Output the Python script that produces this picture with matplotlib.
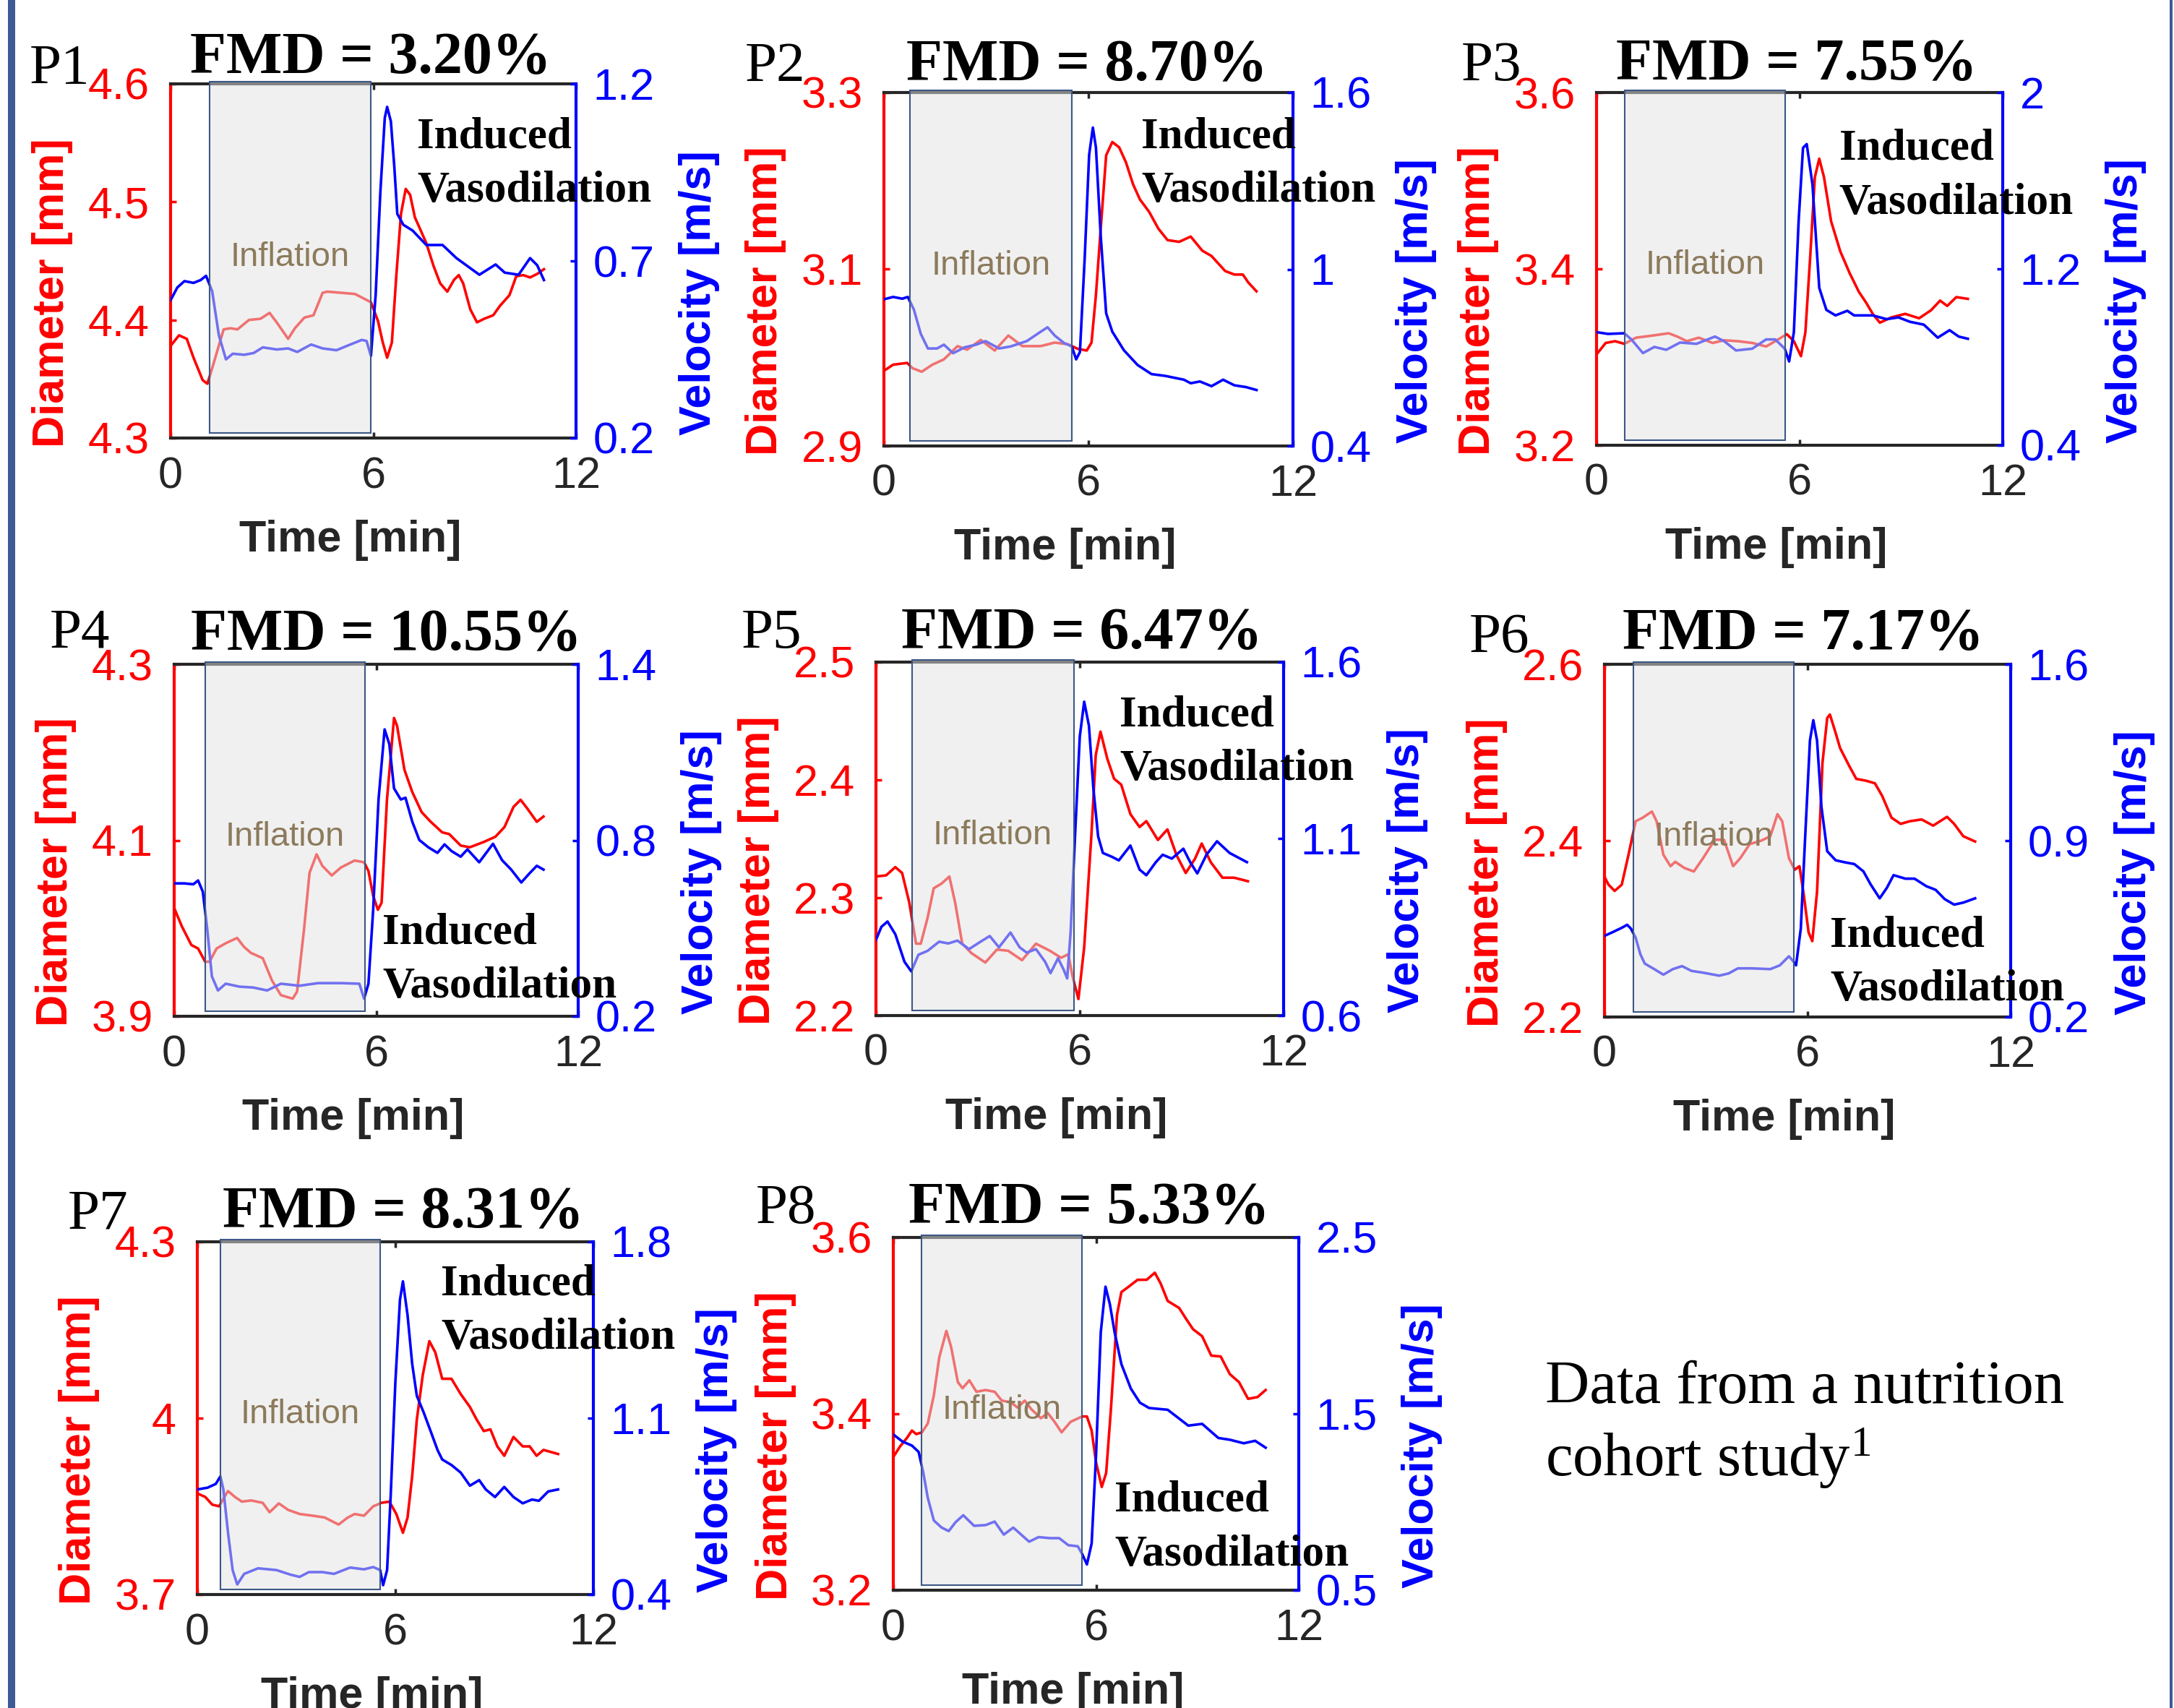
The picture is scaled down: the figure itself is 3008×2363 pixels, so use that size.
import matplotlib
matplotlib.use('Agg')
import matplotlib.pyplot as plt
from matplotlib.patches import Rectangle
from matplotlib.transforms import blended_transform_factory
from matplotlib.ticker import FixedLocator, FixedFormatter

plt.rcParams['font.family'] = ['Liberation Sans', 'DejaVu Sans']
plt.rcParams['mathtext.fontset'] = 'custom'
plt.rcParams['mathtext.rm'] = 'Liberation Serif'
plt.rcParams['mathtext.it'] = 'Liberation Serif:italic'
plt.rcParams['mathtext.bf'] = 'Liberation Serif:bold'

# ---------------- data ----------------
panel_names = ['P1', 'P2', 'P3', 'P4', 'P5', 'P6', 'P7', 'P8']
fmd_values = ['3.20', '8.70', '7.55', '10.55', '6.47', '7.17', '8.31', '5.33']

time_ticks = [0, 6, 12]
time_limits = (0, 12)

dia_limits = [(4.3, 4.6), (2.9, 3.3), (3.2, 3.6), (3.9, 4.3), (2.2, 2.5), (2.2, 2.6), (3.7, 4.3), (3.2, 3.6)]
dia_ticks = [[4.3, 4.4, 4.5, 4.6], [2.9, 3.1, 3.3], [3.2, 3.4, 3.6], [3.9, 4.1, 4.3],
             [2.2, 2.3, 2.4, 2.5], [2.2, 2.4, 2.6], [3.7, 4.0, 4.3], [3.2, 3.4, 3.6]]
vel_limits = [(0.2, 1.2), (0.4, 1.6), (0.4, 2.0), (0.2, 1.4), (0.6, 1.6), (0.2, 1.6), (0.4, 1.8), (0.5, 2.5)]
vel_ticks = [[0.2, 0.7, 1.2], [0.4, 1.0, 1.6], [0.4, 1.2, 2.0], [0.2, 0.8, 1.4],
             [0.6, 1.1, 1.6], [0.2, 0.9, 1.6], [0.4, 1.1, 1.8], [0.5, 1.5, 2.5]]

inflation_start = [1.16, 0.77, 0.84, 0.92, 1.06, 0.85, 0.70, 0.83]
inflation_end = [5.93, 5.51, 5.58, 5.66, 5.82, 5.59, 5.55, 5.59]

# P1
p1_dia_t = [0, 0.25, 0.48, 0.68, 0.95, 1.09, 1.23, 1.57, 1.77, 1.98, 2.32, 2.66, 2.93, 3.14, 3.48, 3.68, 3.96, 4.23, 4.50, 4.64, 5.05, 5.46, 5.73, 5.93, 6.14, 6.28, 6.41, 6.55, 6.68, 6.82, 6.96, 7.09, 7.23, 7.37, 7.57, 7.78, 7.98, 8.19, 8.39, 8.53, 8.66, 8.87, 9.07, 9.28, 9.55, 9.75, 10.03, 10.23, 10.44, 10.64, 10.85, 11.05]
p1_dia = [4.378, 4.387, 4.384, 4.368, 4.349, 4.346, 4.359, 4.392, 4.393, 4.392, 4.400, 4.401, 4.406, 4.398, 4.384, 4.393, 4.402, 4.404, 4.423, 4.424, 4.423, 4.422, 4.418, 4.415, 4.399, 4.381, 4.368, 4.381, 4.437, 4.490, 4.511, 4.506, 4.487, 4.478, 4.465, 4.446, 4.431, 4.424, 4.434, 4.438, 4.431, 4.409, 4.398, 4.401, 4.404, 4.412, 4.421, 4.437, 4.438, 4.436, 4.439, 4.443]
p1_vel_t = [0, 0.20, 0.41, 0.68, 0.89, 1.05, 1.23, 1.43, 1.64, 1.84, 2.18, 2.46, 2.73, 3.14, 3.48, 3.75, 4.16, 4.50, 4.91, 5.32, 5.66, 5.80, 5.93, 6.07, 6.21, 6.34, 6.41, 6.52, 6.62, 6.71, 6.89, 7.16, 7.57, 8.05, 8.46, 9.14, 9.62, 9.89, 10.30, 10.64, 10.85, 11.05]
p1_vel = [0.589, 0.625, 0.643, 0.638, 0.646, 0.658, 0.615, 0.490, 0.422, 0.438, 0.435, 0.440, 0.456, 0.450, 0.453, 0.443, 0.464, 0.453, 0.448, 0.464, 0.477, 0.474, 0.432, 0.604, 0.896, 1.104, 1.135, 1.094, 0.969, 0.833, 0.802, 0.786, 0.745, 0.745, 0.708, 0.661, 0.690, 0.667, 0.661, 0.708, 0.688, 0.646]

# P2
p2_dia_t = [0, 0.27, 0.68, 0.84, 1.11, 1.42, 1.76, 2.16, 2.44, 2.84, 3.25, 3.65, 4.06, 4.60, 5.01, 5.41, 5.68, 5.95, 6.09, 6.22, 6.36, 6.52, 6.70, 6.90, 7.10, 7.31, 7.51, 7.78, 8.05, 8.32, 8.66, 9.00, 9.34, 9.61, 10.01, 10.28, 10.53, 10.69, 10.93]
p2_dia = [2.985, 2.992, 2.994, 2.988, 2.984, 2.992, 2.998, 3.013, 3.009, 3.020, 3.008, 3.025, 3.013, 3.013, 3.017, 3.015, 3.010, 3.008, 3.017, 3.071, 3.146, 3.229, 3.244, 3.238, 3.221, 3.196, 3.179, 3.165, 3.146, 3.133, 3.131, 3.137, 3.121, 3.115, 3.098, 3.094, 3.094, 3.085, 3.075]
p2_vel_t = [0, 0.27, 0.54, 0.70, 0.88, 1.08, 1.29, 1.56, 1.76, 2.03, 2.37, 2.71, 2.98, 3.38, 3.72, 4.19, 4.60, 4.80, 5.01, 5.28, 5.51, 5.64, 5.75, 5.89, 6.02, 6.13, 6.22, 6.36, 6.52, 6.70, 7.04, 7.44, 7.85, 8.25, 8.80, 9.00, 9.27, 9.61, 9.95, 10.28, 10.62, 10.93]
p2_vel = [0.898, 0.906, 0.900, 0.906, 0.863, 0.781, 0.731, 0.731, 0.744, 0.715, 0.735, 0.744, 0.756, 0.731, 0.738, 0.756, 0.788, 0.803, 0.775, 0.750, 0.738, 0.694, 0.719, 1.038, 1.388, 1.481, 1.413, 1.113, 0.850, 0.788, 0.725, 0.675, 0.644, 0.638, 0.625, 0.613, 0.619, 0.603, 0.625, 0.606, 0.600, 0.590]

# P3
p3_dia_t = [0, 0.27, 0.55, 0.82, 1.17, 1.58, 2.13, 2.40, 2.67, 3.02, 3.43, 3.77, 4.18, 4.60, 5.01, 5.28, 5.62, 5.83, 6.04, 6.17, 6.31, 6.45, 6.58, 6.72, 6.93, 7.20, 7.48, 7.75, 7.96, 8.16, 8.37, 8.71, 9.12, 9.53, 9.88, 10.15, 10.36, 10.63, 10.97]
p3_dia = [3.303, 3.316, 3.318, 3.315, 3.322, 3.324, 3.327, 3.323, 3.318, 3.322, 3.316, 3.319, 3.318, 3.316, 3.312, 3.318, 3.326, 3.318, 3.301, 3.328, 3.412, 3.504, 3.525, 3.504, 3.454, 3.420, 3.395, 3.374, 3.362, 3.349, 3.339, 3.345, 3.349, 3.344, 3.353, 3.364, 3.358, 3.368, 3.366]
p3_vel_t = [0, 0.34, 0.82, 1.03, 1.37, 1.71, 2.06, 2.47, 2.95, 3.50, 3.77, 4.12, 4.60, 5.01, 5.28, 5.56, 5.69, 5.83, 5.97, 6.10, 6.21, 6.38, 6.58, 6.79, 7.06, 7.41, 7.61, 8.16, 8.57, 8.92, 9.26, 9.67, 10.08, 10.43, 10.70, 10.97]
p3_vel = [0.913, 0.905, 0.908, 0.880, 0.818, 0.846, 0.833, 0.866, 0.860, 0.893, 0.872, 0.830, 0.838, 0.880, 0.880, 0.838, 0.780, 0.913, 1.415, 1.749, 1.766, 1.582, 1.114, 1.014, 0.989, 1.010, 0.989, 0.989, 0.972, 0.980, 0.960, 0.947, 0.888, 0.922, 0.893, 0.883]

# P4
p4_dia_t = [0, 0.23, 0.51, 0.71, 0.92, 1.05, 1.26, 1.53, 1.87, 2.07, 2.28, 2.63, 2.90, 3.17, 3.52, 3.65, 3.86, 4.02, 4.23, 4.40, 4.68, 4.95, 5.36, 5.64, 5.77, 5.91, 6.05, 6.16, 6.32, 6.53, 6.62, 6.84, 7.07, 7.35, 7.62, 7.96, 8.17, 8.51, 8.78, 9.19, 9.54, 9.81, 10.08, 10.29, 10.49, 10.77, 10.97]
p4_dia = [4.023, 4.002, 3.981, 3.977, 3.962, 3.962, 3.977, 3.983, 3.989, 3.979, 3.972, 3.966, 3.941, 3.924, 3.920, 3.928, 4.000, 4.063, 4.084, 4.071, 4.060, 4.069, 4.077, 4.075, 4.065, 4.037, 4.021, 4.029, 4.146, 4.239, 4.230, 4.180, 4.155, 4.132, 4.121, 4.109, 4.107, 4.094, 4.092, 4.098, 4.104, 4.115, 4.138, 4.146, 4.136, 4.121, 4.127]
p4_vel_t = [0, 0.30, 0.57, 0.71, 0.85, 0.98, 1.12, 1.30, 1.53, 1.94, 2.35, 2.76, 3.17, 3.72, 4.27, 4.95, 5.50, 5.64, 5.77, 5.91, 6.07, 6.25, 6.39, 6.53, 6.73, 6.87, 7.07, 7.28, 7.55, 7.82, 8.03, 8.24, 8.51, 8.71, 9.06, 9.47, 9.74, 10.01, 10.31, 10.56, 10.77, 10.97]
p4_vel = [0.653, 0.653, 0.650, 0.663, 0.625, 0.499, 0.336, 0.288, 0.311, 0.301, 0.298, 0.288, 0.311, 0.304, 0.313, 0.313, 0.311, 0.260, 0.311, 0.562, 0.939, 1.178, 1.128, 0.977, 0.939, 0.945, 0.864, 0.801, 0.776, 0.757, 0.786, 0.763, 0.744, 0.769, 0.725, 0.788, 0.732, 0.700, 0.656, 0.688, 0.713, 0.700]

# P5
p5_dia_t = [0, 0.30, 0.57, 0.77, 0.98, 1.18, 1.32, 1.52, 1.70, 1.93, 2.16, 2.33, 2.54, 2.81, 3.22, 3.56, 3.89, 4.30, 4.71, 5.12, 5.45, 5.66, 5.79, 5.96, 6.13, 6.34, 6.47, 6.61, 6.81, 7.01, 7.22, 7.49, 7.76, 7.96, 8.30, 8.58, 8.85, 9.12, 9.39, 9.59, 9.86, 10.20, 10.54, 10.95]
p5_dia = [2.318, 2.319, 2.326, 2.321, 2.296, 2.261, 2.261, 2.283, 2.308, 2.312, 2.318, 2.296, 2.261, 2.253, 2.245, 2.256, 2.255, 2.247, 2.261, 2.255, 2.249, 2.252, 2.233, 2.214, 2.258, 2.352, 2.421, 2.441, 2.418, 2.401, 2.396, 2.371, 2.360, 2.365, 2.349, 2.358, 2.336, 2.321, 2.333, 2.346, 2.330, 2.317, 2.317, 2.314]
p5_vel_t = [0, 0.16, 0.34, 0.57, 0.84, 1.04, 1.25, 1.52, 1.86, 2.13, 2.40, 2.74, 3.08, 3.35, 3.62, 3.96, 4.23, 4.44, 4.71, 4.98, 5.14, 5.36, 5.52, 5.63, 5.73, 5.86, 6.00, 6.13, 6.27, 6.40, 6.54, 6.68, 6.95, 7.15, 7.49, 7.76, 7.96, 8.24, 8.44, 8.71, 9.05, 9.25, 9.46, 9.73, 10.04, 10.41, 10.92]
p5_vel = [0.814, 0.851, 0.866, 0.830, 0.752, 0.725, 0.772, 0.783, 0.809, 0.804, 0.812, 0.788, 0.809, 0.825, 0.793, 0.835, 0.793, 0.778, 0.788, 0.752, 0.720, 0.762, 0.731, 0.705, 0.835, 1.107, 1.389, 1.488, 1.420, 1.243, 1.107, 1.060, 1.049, 1.039, 1.081, 1.013, 0.997, 1.034, 1.055, 1.044, 1.072, 1.034, 1.002, 1.055, 1.093, 1.060, 1.034]

# P6
p6_dia_t = [0, 0.12, 0.30, 0.51, 0.71, 0.92, 1.13, 1.40, 1.54, 1.74, 1.95, 2.09, 2.36, 2.64, 2.91, 3.26, 3.53, 3.80, 4.01, 4.29, 4.63, 4.90, 5.11, 5.25, 5.45, 5.62, 5.76, 5.89, 6.03, 6.14, 6.28, 6.44, 6.58, 6.66, 6.83, 6.96, 7.24, 7.44, 7.72, 7.99, 8.20, 8.48, 8.75, 9.02, 9.37, 9.71, 10.12, 10.33, 10.60, 10.95]
p6_dia = [2.359, 2.350, 2.343, 2.350, 2.384, 2.422, 2.426, 2.433, 2.422, 2.384, 2.371, 2.376, 2.369, 2.365, 2.380, 2.401, 2.401, 2.371, 2.380, 2.396, 2.400, 2.405, 2.430, 2.422, 2.380, 2.367, 2.371, 2.338, 2.296, 2.286, 2.342, 2.488, 2.539, 2.543, 2.522, 2.505, 2.484, 2.470, 2.468, 2.465, 2.451, 2.426, 2.419, 2.422, 2.424, 2.417, 2.427, 2.419, 2.405, 2.399]
p6_vel_t = [0, 0.23, 0.51, 0.67, 0.78, 0.92, 1.06, 1.19, 1.47, 1.74, 2.02, 2.29, 2.57, 2.91, 3.39, 3.67, 3.94, 4.35, 4.90, 5.18, 5.45, 5.59, 5.66, 5.80, 5.93, 6.07, 6.17, 6.28, 6.41, 6.58, 6.83, 7.10, 7.38, 7.65, 7.86, 8.13, 8.34, 8.54, 8.89, 9.16, 9.51, 9.78, 10.05, 10.33, 10.60, 10.95]
p6_vel = [0.522, 0.536, 0.554, 0.566, 0.551, 0.515, 0.449, 0.412, 0.390, 0.368, 0.390, 0.402, 0.383, 0.376, 0.364, 0.373, 0.393, 0.393, 0.390, 0.405, 0.441, 0.419, 0.405, 0.551, 0.917, 1.297, 1.378, 1.297, 1.034, 0.858, 0.822, 0.814, 0.807, 0.778, 0.727, 0.671, 0.712, 0.763, 0.749, 0.749, 0.719, 0.705, 0.668, 0.646, 0.654, 0.671]

# P7
p7_dia_t = [0, 0.24, 0.45, 0.66, 0.79, 0.93, 1.14, 1.35, 1.63, 1.98, 2.19, 2.47, 2.75, 3.10, 3.51, 3.86, 4.28, 4.56, 4.77, 5.05, 5.33, 5.58, 5.82, 6.03, 6.23, 6.37, 6.51, 6.65, 6.83, 7.03, 7.21, 7.42, 7.70, 7.98, 8.26, 8.47, 8.68, 8.88, 9.09, 9.30, 9.58, 9.86, 10.07, 10.28, 10.49, 10.93]
p7_dia = [3.872, 3.866, 3.853, 3.850, 3.863, 3.876, 3.866, 3.858, 3.860, 3.856, 3.840, 3.855, 3.844, 3.837, 3.834, 3.831, 3.819, 3.831, 3.837, 3.834, 3.850, 3.856, 3.858, 3.837, 3.805, 3.831, 3.901, 3.997, 4.073, 4.131, 4.112, 4.067, 4.067, 4.041, 4.019, 3.997, 3.978, 3.981, 3.952, 3.936, 3.968, 3.952, 3.952, 3.936, 3.946, 3.939]
p7_vel_t = [0, 0.31, 0.56, 0.70, 0.79, 0.93, 1.07, 1.21, 1.42, 1.84, 2.40, 2.82, 3.10, 3.38, 3.79, 4.14, 4.63, 5.05, 5.33, 5.54, 5.63, 5.75, 5.86, 6.00, 6.14, 6.23, 6.37, 6.51, 6.65, 6.86, 7.07, 7.28, 7.42, 7.70, 7.98, 8.26, 8.54, 8.74, 9.02, 9.30, 9.58, 9.86, 10.14, 10.35, 10.63, 10.93]
p7_vel = [0.817, 0.824, 0.839, 0.869, 0.817, 0.646, 0.497, 0.440, 0.482, 0.504, 0.497, 0.479, 0.470, 0.489, 0.489, 0.482, 0.507, 0.500, 0.509, 0.497, 0.437, 0.497, 0.795, 1.241, 1.569, 1.643, 1.509, 1.316, 1.189, 1.122, 1.048, 0.973, 0.936, 0.914, 0.884, 0.832, 0.854, 0.817, 0.787, 0.827, 0.787, 0.762, 0.777, 0.772, 0.809, 0.817]

# P8
p8_dia_t = [0, 0.20, 0.41, 0.55, 0.68, 0.85, 1.02, 1.20, 1.36, 1.57, 1.71, 1.91, 2.05, 2.25, 2.46, 2.73, 3.00, 3.21, 3.48, 3.68, 3.89, 4.09, 4.37, 4.57, 4.77, 4.98, 5.25, 5.59, 5.73, 5.87, 6.00, 6.17, 6.30, 6.44, 6.62, 6.75, 6.96, 7.23, 7.50, 7.74, 7.91, 8.12, 8.46, 8.66, 8.87, 9.14, 9.41, 9.69, 9.96, 10.23, 10.50, 10.78, 11.02]
p8_dia = [3.351, 3.363, 3.373, 3.381, 3.377, 3.379, 3.389, 3.421, 3.464, 3.494, 3.476, 3.436, 3.429, 3.438, 3.425, 3.427, 3.425, 3.415, 3.413, 3.407, 3.415, 3.405, 3.395, 3.401, 3.391, 3.379, 3.391, 3.397, 3.397, 3.381, 3.345, 3.317, 3.333, 3.405, 3.512, 3.538, 3.544, 3.552, 3.552, 3.560, 3.548, 3.528, 3.520, 3.508, 3.496, 3.488, 3.466, 3.465, 3.445, 3.436, 3.417, 3.419, 3.427]
p8_vel_t = [0, 0.27, 0.55, 0.75, 0.89, 1.02, 1.20, 1.43, 1.64, 1.84, 2.07, 2.39, 2.73, 3.00, 3.27, 3.55, 3.82, 4.02, 4.30, 4.64, 4.91, 5.18, 5.46, 5.59, 5.73, 5.87, 6.00, 6.14, 6.28, 6.41, 6.55, 6.75, 7.03, 7.30, 7.57, 8.12, 8.46, 8.73, 9.14, 9.62, 9.96, 10.37, 10.71, 11.02]
p8_vel = [1.383, 1.343, 1.320, 1.284, 1.164, 1.024, 0.895, 0.855, 0.835, 0.885, 0.925, 0.865, 0.869, 0.889, 0.815, 0.855, 0.809, 0.775, 0.801, 0.795, 0.795, 0.755, 0.749, 0.705, 0.646, 0.765, 1.264, 1.962, 2.221, 2.121, 1.962, 1.782, 1.643, 1.563, 1.533, 1.523, 1.473, 1.433, 1.443, 1.363, 1.353, 1.333, 1.347, 1.308]

dia_t = [p1_dia_t, p2_dia_t, p3_dia_t, p4_dia_t, p5_dia_t, p6_dia_t, p7_dia_t, p8_dia_t]
dia_v = [p1_dia, p2_dia, p3_dia, p4_dia, p5_dia, p6_dia, p7_dia, p8_dia]
vel_t = [p1_vel_t, p2_vel_t, p3_vel_t, p4_vel_t, p5_vel_t, p6_vel_t, p7_vel_t, p8_vel_t]
vel_v = [p1_vel, p2_vel, p3_vel, p4_vel, p5_vel, p6_vel, p7_vel, p8_vel]

# ---------------- layout (pixels in 3008x2363 canvas) ----------------
W, H = 3008, 2363
axes_px = [(236, 797, 116, 606), (1223, 1789, 128, 617), (2209, 2771, 128, 616),
           (241, 800, 919, 1406), (1212, 1776, 916, 1405), (2220, 2782, 919, 1407),
           (273, 821, 1718, 2206), (1236, 1797, 1712, 2200)]
plabel_px = [(41, 115), (1031, 112), (2022, 111), (69, 896), (1026, 896), (2033, 902), (94, 1700), (1046, 1692)]
fmd_px = [(513, 101), (1504, 111), (2486, 110), (534, 899), (1497, 897), (2495, 898), (558, 1698), (1507, 1692)]
induced_pos = [(7.3, 0.82), (7.55, 0.844), (7.17, 0.81), (6.18, 0.207), (7.18, 0.82), (6.66, 0.20), (7.39, 0.85), (6.55, 0.224)]

RED = '#FF0000'
BLUE = '#0000FF'
DARK = '#262626'
INFL_TXT = '#8C7A5B'
RECT_EDGE = '#3B5785'
TICK_FS = 44

fig = plt.figure(figsize=(W / 100, H / 100), dpi=100)
fig.patch.set_facecolor('white')

for i in range(8):
    l, r, t, b = axes_px[i]
    ax = fig.add_axes([l / W, 1 - b / H, (r - l) / W, (b - t) / H])
    ax2 = ax.twinx()
    axw = r - l
    axh = b - t

    ax.plot(dia_t[i], dia_v[i], color=RED, lw=2.6, solid_joinstyle='round', zorder=2)
    ax2.plot(vel_t[i], vel_v[i], color=BLUE, lw=2.6, solid_joinstyle='round', zorder=2)

    ax.set_xlim(*time_limits)
    ax.set_ylim(*dia_limits[i])
    ax2.set_ylim(*vel_limits[i])

    ax.xaxis.set_major_locator(FixedLocator(time_ticks))
    ax.xaxis.set_major_formatter(FixedFormatter([f'{v:g}' for v in time_ticks]))
    ax.yaxis.set_major_locator(FixedLocator(dia_ticks[i]))
    ax.yaxis.set_major_formatter(FixedFormatter([f'{v:g}' for v in dia_ticks[i]]))
    ax2.yaxis.set_major_locator(FixedLocator(vel_ticks[i]))
    ax2.yaxis.set_major_formatter(FixedFormatter([f'{v:g}' for v in vel_ticks[i]]))

    ax.tick_params(axis='x', direction='in', top=True, bottom=True, length=6, width=2.5,
                   colors=DARK, labelsize=TICK_FS, pad=18)
    ax.tick_params(axis='y', direction='in', left=True, right=False, length=6, width=2.5,
                   colors=RED, labelsize=TICK_FS, pad=21)
    ax2.tick_params(axis='y', direction='in', right=True, left=False, length=6, width=2.5,
                    colors=BLUE, labelsize=TICK_FS, pad=17)

    for s in ['top', 'bottom']:
        ax.spines[s].set_color(DARK)
        ax.spines[s].set_linewidth(3)
        ax2.spines[s].set_visible(False)
    ax.spines['left'].set_color(RED)
    ax.spines['left'].set_linewidth(3)
    ax.spines['right'].set_visible(False)
    ax2.spines['left'].set_visible(False)
    ax2.spines['right'].set_color(BLUE)
    ax2.spines['right'].set_linewidth(3)

    # inflation shading (overlay)
    tr = blended_transform_factory(ax2.transData, ax2.transAxes)
    s0, s1 = inflation_start[i], inflation_end[i]
    ax2.add_patch(Rectangle((s0, 0.014), s1 - s0, 0.992, transform=tr, facecolor=(0.89, 0.89, 0.89),
                            alpha=0.5, edgecolor='none', zorder=5, clip_on=False))
    ax2.add_patch(Rectangle((s0, 0.014), s1 - s0, 0.992, transform=tr, facecolor='none',
                            edgecolor=RECT_EDGE, lw=1.5, zorder=5.1, clip_on=False))
    ax2.text((s0 + s1) / 2, 0.51, 'Inflation', transform=tr, ha='center', va='center',
             fontsize=34, color=INFL_TXT, zorder=6)

    # induced vasodilation annotation
    ix, iy = induced_pos[i]
    for k, word in enumerate(['Induced', 'Vasodilation']):
        ax2.text(ix, iy - k * 75 / axh, word, transform=tr, ha='left', va='baseline',
                 fontsize=44, fontweight='bold', family='Liberation Serif', color='black',
                 zorder=7, clip_on=False)

    # axis labels
    ax.text(-163 / axw, 0.41, 'Diameter [mm]', transform=ax.transAxes, rotation=90,
            ha='center', va='center', fontsize=44, fontweight='bold', color=RED)
    ax.text(1 + 171 / axw, 0.41, 'Velocity [m/s]', transform=ax.transAxes, rotation=90,
            ha='center', va='center', fontsize=44, fontweight='bold', color=BLUE)
    ax.text(0.5 - 32 / axw, -157 / axh, 'Time [min]', transform=ax.transAxes,
            ha='center', va='baseline', fontsize=44, fontweight='bold', color=DARK)

    # panel label and FMD title
    px, py = plabel_px[i]
    fig.text(px / W, 1 - py / H, panel_names[i], ha='left', va='baseline', fontsize=57,
             family='Liberation Serif', color='black')
    fx, fy = fmd_px[i]
    fig.text(fx / W, 1 - fy / H, f'FMD = {fmd_values[i]}%', ha='center', va='baseline',
             fontsize=59, fontweight='bold', family='Liberation Serif', color='black')

# note
fig.text(2138 / W, 1 - 1941 / H, 'Data from a nutrition', ha='left', va='baseline', fontsize=61,
         family='Liberation Serif', color='black')
fig.text(2138 / W, 1 - 2042 / H, r'cohort study$^{\mathrm{1}}$', ha='left', va='baseline', fontsize=61,
         family='Liberation Serif', color='black')

# slide borders
fig.add_artist(Rectangle((11 / W, 0), 10 / W, 1, transform=fig.transFigure, facecolor='#3D5A96',
                         edgecolor='none'))
fig.add_artist(Rectangle((3002 / W, 0), 4 / W, 1, transform=fig.transFigure, facecolor='#3D5A96',
                         edgecolor='none'))

fig.savefig('out.png', dpi=100, facecolor='white')
